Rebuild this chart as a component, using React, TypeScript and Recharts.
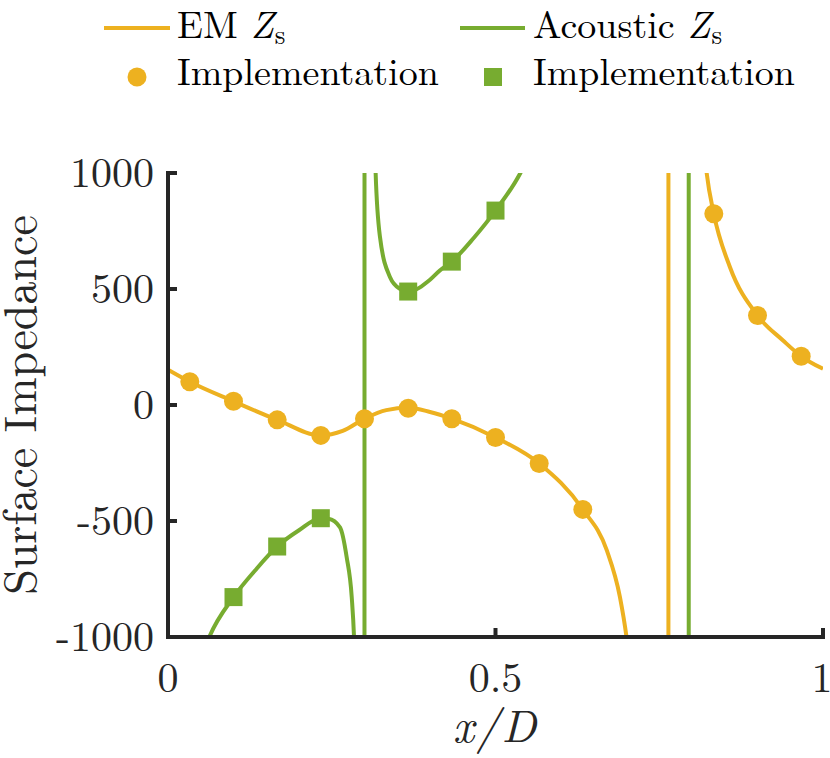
import React from 'react';
import { ComposedChart, Line, Scatter, XAxis, YAxis, Legend } from 'recharts';

const EM_COLOR = '#EDB120';
const AC_COLOR = '#77AC30';
const AXIS_COLOR = '#262626';
const FONT = "'Latin Modern Roman'";

// EM surface impedance curve (x/D, value)
const emCurveX = [0, 0.0333, 0.1, 0.1667, 0.2333, 0.2667, 0.3, 0.3333, 0.3667, 0.4, 0.4333, 0.5, 0.5667, 0.6333, 0.67, 0.69, 0.7, 0.72, 0.74, 0.755, 0.7635, 0.7645, 0.78, 0.8, 0.8224, 0.8333, 0.858, 0.9, 0.939, 0.9667, 1.0];
const emCurveY = [152, 100, 16, -64, -131, -112, -59, -22, -12, -30, -59, -140, -252, -450, -627, -828, -1000, -1600, -2900, -6500, -60000, 60000, 4500, 1900, 1000, 824, 594, 386, 278, 210, 156];

// Acoustic surface impedance curve
const acCurveX = [0, 0.03, 0.063, 0.1, 0.1333, 0.1667, 0.2, 0.2333, 0.245, 0.2626, 0.2728, 0.2805, 0.284, 0.29, 0.296, 0.2995, 0.3005, 0.31, 0.317, 0.3237, 0.339, 0.354, 0.3667, 0.4, 0.415, 0.4333, 0.4667, 0.5, 0.538, 0.6, 0.7, 0.76, 0.7945, 0.7955, 0.83, 0.9, 1.0];
const acCurveY = [-1700, -1280, -1000, -828, -712, -610, -540, -488, -490, -527, -656, -828, -1000, -1700, -4500, -60000, 60000, 2600, 1000, 723, 551, 501, 489, 540, 580, 618, 720, 838, 1000, 1450, 2700, 6000, 60000, -60000, -4500, -2300, -1700];

// Implementation samples
const emImplX = [0.0333, 0.1, 0.1667, 0.2333, 0.3, 0.3667, 0.4333, 0.5, 0.5667, 0.6333, 0.8333, 0.9, 0.9667];
const emImplY = [100, 16, -64, -131, -59, -14, -59, -140, -252, -450, 824, 386, 210];
const acImplX = [0.1, 0.1667, 0.2333, 0.3667, 0.4333, 0.5];
const acImplY = [-828, -610, -488, 489, 618, 838];

const xTicks = [0, 0.5, 1];
const yTicks = [-1000, -500, 0, 500, 1000];
const xDomain: [number, number] = [0, 1];
const yDomain: [number, number] = [-1000, 1000];

const zip = (xs: number[], ys: number[]) => xs.map((x, i) => ({ x, y: ys[i] }));
const emCurve = zip(emCurveX, emCurveY);
const acCurve = zip(acCurveX, acCurveY);
const emImpl = zip(emImplX, emImplY);
const acImpl = zip(acImplX, acImplY);

const axisLineStyle = { stroke: AXIS_COLOR, strokeWidth: 4, strokeLinecap: 'square' as const };
const tickLineStyle = { stroke: AXIS_COLOR, strokeWidth: 4 };

const textStyle = (size: number, italic = false): React.CSSProperties => ({
  fontFamily: FONT,
  fontSize: size,
  fontStyle: italic ? 'italic' : 'normal',
});

const YTick = (props: any) => (
  <text x={props.x} y={props.y} dy="0.33em" textAnchor="end" style={textStyle(42)} fill={AXIS_COLOR}>
    {String(props.payload.value)}
  </text>
);

const XTick = (props: any) => {
  const v = props.payload.value;
  const shift = v === 1 ? -1 : 0;
  return (
    <text x={props.x + shift} y={props.y} textAnchor="middle" style={textStyle(42)} fill={AXIS_COLOR}>
      {String(v)}
    </text>
  );
};

const NoTick = () => <g />;

const YLabel = (props: any) => {
  const vb = props.viewBox || { x: 0, y: 173, width: 168, height: 464 };
  const cx = vb.x + 36;
  const cy = vb.y + vb.height / 2;
  return (
    <text x={cx} y={cy} textAnchor="middle" transform={`rotate(-90, ${cx}, ${cy})`} style={textStyle(46)} fill={AXIS_COLOR}>
      Surface Impedance
    </text>
  );
};

const XLabel = (props: any) => {
  const vb = props.viewBox || { x: 168, y: 637, width: 655, height: 60 };
  const cx = vb.x + vb.width / 2;
  const by = vb.y + 105;
  return (
    <text x={cx} y={by} textAnchor="middle" style={{ ...textStyle(46, true), letterSpacing: 2 }} fill={AXIS_COLOR}>
      x/D
    </text>
  );
};

const CircleShape = (p: any) => <circle cx={p.cx} cy={p.cy} r={9.5} fill={EM_COLOR} />;
const SquareShape = (p: any) => <rect x={p.cx - 9} y={p.cy - 9} width={18} height={18} fill={AC_COLOR} />;

const LegendContent = () => (
  <svg width={830} height={100} style={{ display: 'block', overflow: 'visible' }}>
    <line x1={104} y1={28} x2={170} y2={28} stroke={EM_COLOR} strokeWidth={4} />
    <text x={177} y={38} style={textStyle(38)} fill="#000">
      EM <tspan style={textStyle(38, true)}>Z</tspan>
      <tspan style={textStyle(27)} dx={1} dy={6}>s</tspan>
    </text>
    <line x1={460} y1={28} x2={525} y2={28} stroke={AC_COLOR} strokeWidth={4} />
    <text x={533} y={38} style={textStyle(38)} fill="#000">
      Acoustic <tspan style={textStyle(38, true)}>Z</tspan>
      <tspan style={textStyle(27)} dx={1} dy={6}>s</tspan>
    </text>
    <circle cx={137} cy={77} r={9.5} fill={EM_COLOR} />
    <text x={177} y={85} style={textStyle(38)} fill="#000">Implementation</text>
    <rect x={484} y={68} width={18} height={18} fill={AC_COLOR} />
    <text x={533} y={85} style={textStyle(38)} fill="#000">Implementation</text>
  </svg>
);

export default function App() {
  return (
    <div style={{ position: 'absolute', left: 0, top: 0, width: 830, height: 758, background: '#fff' }}>
      <ComposedChart width={830} height={758} margin={{ top: 173, right: 7, bottom: 61, left: 0 }}>
        <XAxis
          dataKey="x"
          type="number"
          domain={xDomain}
          ticks={xTicks}
          allowDataOverflow
          height={60}
          tickSize={-9}
          tickMargin={64}
          axisLine={axisLineStyle}
          tickLine={tickLineStyle}
          tick={XTick}
          label={XLabel}
          interval={0}
        />
        <XAxis
          xAxisId="top"
          orientation="top"
          dataKey="x"
          type="number"
          domain={xDomain}
          ticks={xTicks}
          allowDataOverflow
          height={0}
          tickSize={-9}
          axisLine={axisLineStyle}
          tickLine={tickLineStyle}
          tick={NoTick}
          interval={0}
        />
        <YAxis
          dataKey="y"
          type="number"
          domain={yDomain}
          ticks={yTicks}
          allowDataOverflow
          width={168}
          tickSize={-9}
          tickMargin={23}
          axisLine={axisLineStyle}
          tickLine={tickLineStyle}
          tick={YTick}
          label={YLabel}
          interval={0}
        />
        <YAxis
          yAxisId="right"
          orientation="right"
          dataKey="y"
          type="number"
          domain={yDomain}
          ticks={yTicks}
          allowDataOverflow
          width={0}
          tickSize={-9}
          axisLine={axisLineStyle}
          tickLine={tickLineStyle}
          tick={NoTick}
          interval={0}
        />
        <Legend
          layout="vertical"
          align="center"
          verticalAlign="middle"
          wrapperStyle={{ position: 'absolute', top: 0, left: 0, width: 830, height: 100 }}
          content={LegendContent}
        />
        <Line data={emCurve} dataKey="y" type="monotone" stroke={EM_COLOR} strokeWidth={4} dot={false} activeDot={false} isAnimationActive={false} />
        <Line data={acCurve} dataKey="y" type="monotone" stroke={AC_COLOR} strokeWidth={4} dot={false} activeDot={false} isAnimationActive={false} />
        <Scatter data={emImpl} dataKey="y" shape={CircleShape} isAnimationActive={false} />
        <Scatter data={acImpl} dataKey="y" shape={SquareShape} isAnimationActive={false} />
      </ComposedChart>
    </div>
  );
}
